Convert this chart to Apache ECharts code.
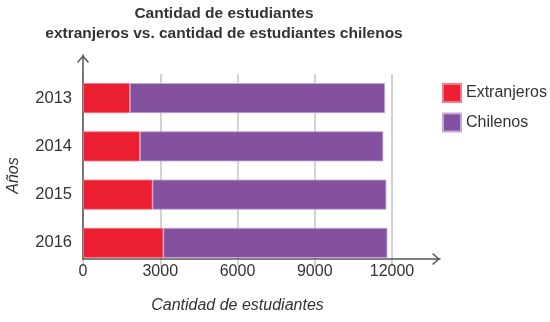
<!DOCTYPE html>
<html>
<head>
<meta charset="utf-8">
<script src="https://cdn.jsdelivr.net/npm/echarts@6/dist/echarts.min.js"></script>
<style>html,body{margin:0;padding:0;background:#fff}#c{width:550px;height:322px}</style>
</head>
<body>
<div id="c"></div>
<script>
const years = ['2013', '2014', '2015', '2016'];
const extranjeros = [1820, 2210, 2700, 3120];
const chilenos = [9910, 9450, 9080, 8700];
const seriesNames = ['Extranjeros', 'Chilenos'];
const titleLines = ['Cantidad de estudiantes', 'extranjeros vs. cantidad de estudiantes chilenos'];
const xAxisTitle = 'Cantidad de estudiantes';
const yAxisTitle = 'Años';

const chevron = 'path://M0,6.8 L6,0 L12,6.8 L10.9,7.8 L6,2.2 L1.1,7.8 Z';
const font = '"Liberation Sans", Arial, sans-serif';
const chart = echarts.init(document.getElementById('c'), null, {renderer: 'canvas'});
chart.setOption({
  animation: false,
  textStyle: {fontFamily: font},
  title: {
    text: titleLines.join('\n'),
    left: 224, top: 3, padding: 0, textAlign: 'center',
    textStyle: {fontSize: 15.5, fontWeight: 'bold', color: '#333', lineHeight: 20.5, fontFamily: font}
  },
  legend: {
    orient: 'vertical', left: 442, top: 83, padding: 0,
    itemWidth: 18, itemHeight: 18, itemGap: 9.5,
    icon: 'rect',
    textStyle: {fontSize: 16, color: '#333', fontFamily: font},
    data: seriesNames
  },
  grid: [
    {left: 83, right: 158, top: 74, bottom: 55, outerBoundsMode: 'none', containLabel: false},
    {left: 83, right: 110, top: 55, bottom: 63, outerBoundsMode: 'none', containLabel: false}
  ],
  xAxis: [
    {
      gridIndex: 0, type: 'value', min: 0, max: 12000, interval: 3000,
      offset: -8,
      axisLine: {show: false}, axisTick: {show: false},
      splitLine: {show: true, lineStyle: {color: '#c4c4c4', width: 1.5}},
      axisLabel: {fontSize: 16, color: '#333', margin: 5, fontFamily: font, formatter: function (v) { return String(v); }},
      name: xAxisTitle, nameLocation: 'middle', nameGap: 39,
      nameTextStyle: {fontSize: 16, fontStyle: 'italic', color: '#333', fontFamily: font}
    },
    {
      gridIndex: 1, type: 'value', min: 0, max: 1,
      axisLine: {show: true, onZero: false, lineStyle: {color: '#555', width: 1.5}, symbol: ['none', chevron], symbolSize: [12, 8], symbolOffset: [0, -4]},
      axisTick: {show: false}, axisLabel: {show: false}, splitLine: {show: false}
    }
  ],
  yAxis: [
    {
      gridIndex: 0, type: 'category', data: years, inverse: true,
      axisLine: {show: false}, axisTick: {show: false},
      axisLabel: {fontSize: 16.5, color: '#333', margin: 11, fontFamily: font},
      name: yAxisTitle, nameLocation: 'middle', nameGap: 61,
      nameTextStyle: {fontSize: 16, fontStyle: 'italic', color: '#333', fontFamily: font, padding: [0, 10, 0, 0]}
    },
    {
      gridIndex: 1, type: 'value', min: 0, max: 1,
      axisLine: {show: true, onZero: false, lineStyle: {color: '#555', width: 1.5}, symbol: ['none', chevron], symbolSize: [12, 8], symbolOffset: [0, -4]},
      axisTick: {show: false}, axisLabel: {show: false}, splitLine: {show: false}
    }
  ],
  series: [
    {
      name: seriesNames[0], type: 'bar', stack: 'total', xAxisIndex: 0, yAxisIndex: 0,
      barWidth: 30, data: extranjeros,
      itemStyle: {color: '#ED1F33', borderColor: '#f27a86', borderWidth: 0.8}
    },
    {
      name: seriesNames[1], type: 'bar', stack: 'total', xAxisIndex: 0, yAxisIndex: 0,
      barWidth: 30, data: chilenos,
      itemStyle: {color: '#8451A1', borderColor: '#c3a8d4', borderWidth: 0.8}
    }
  ]
});
</script>
</body>
</html>
